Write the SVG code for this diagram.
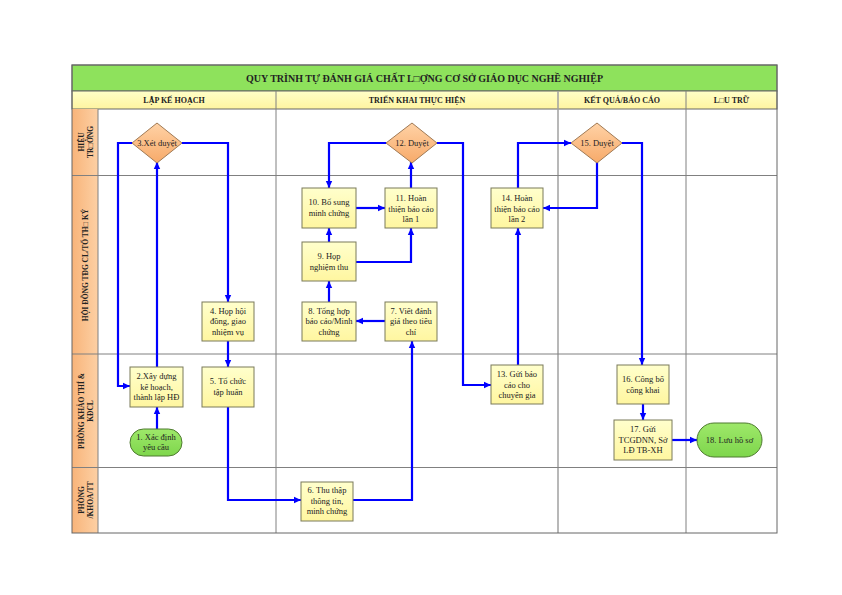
<svg xmlns="http://www.w3.org/2000/svg" width="842" height="595" viewBox="0 0 842 595">
<defs>
<linearGradient id="gBox" x1="0" y1="0" x2="0" y2="1"><stop offset="0" stop-color="#ffffcc"/><stop offset="1" stop-color="#fff6a0"/></linearGradient>
<linearGradient id="gDia" x1="0" y1="0" x2="0" y2="1"><stop offset="0" stop-color="#ffd2a6"/><stop offset="1" stop-color="#f7aa6a"/></linearGradient>
<linearGradient id="gPill" x1="0" y1="0" x2="0" y2="1"><stop offset="0" stop-color="#9ee86a"/><stop offset="1" stop-color="#7ed64c"/></linearGradient>
<linearGradient id="gLane" x1="0" y1="0" x2="1" y2="0"><stop offset="0" stop-color="#f8b47a"/><stop offset="1" stop-color="#fdd0a4"/></linearGradient>
<linearGradient id="gHead" x1="0" y1="0" x2="0" y2="1"><stop offset="0" stop-color="#ffffc8"/><stop offset="1" stop-color="#fff4a0"/></linearGradient>
<marker id="ah" markerUnits="userSpaceOnUse" markerWidth="8" markerHeight="8" refX="7" refY="4" orient="auto"><path d="M0,0.8 L7,4 L0,7.2 Z" fill="#0000ff"/></marker>
<style>
.box{fill:url(#gBox);stroke:#7a7a5a;stroke-width:1}
.dia{fill:url(#gDia);stroke:#a07a55;stroke-width:1}
.pill{fill:url(#gPill);stroke:#4f7a30;stroke-width:1}
.t{font-family:"Liberation Serif","Times New Roman",serif;font-size:8.5px;fill:#222;text-anchor:middle}
.lane{font-family:"Liberation Serif","Times New Roman",serif;font-size:7.5px;font-weight:bold;fill:#222;text-anchor:middle}
.hd{font-family:"Liberation Serif","Times New Roman",serif;font-size:8px;font-weight:bold;fill:#222;text-anchor:middle}
.grid{stroke:#808080;stroke-width:1;fill:none}
.c{fill:none;stroke:#0000ff;stroke-width:2.2;marker-end:url(#ah)}
</style>
</defs>
<rect x="0" y="0" width="842" height="595" fill="#ffffff"/>
<g id="frame">
<rect x="72" y="65" width="705" height="26" fill="#8ee25c" stroke="#666" stroke-width="1"/>
<text x="424.5" y="81.5" class="hd" style="font-size:10px">QUY TRÌNH TỰ ĐÁNH GIÁ CHẤT L□ỢNG CƠ SỞ GIÁO DỤC NGHỀ NGHIỆP</text>
<rect x="72" y="91" width="705" height="18" fill="url(#gHead)" stroke="#666" stroke-width="1"/>
<text x="174" y="103" class="hd">LẬP KẾ HOẠCH</text>
<text x="417" y="103" class="hd">TRIỂN KHAI THỰC HIỆN</text>
<text x="622" y="103" class="hd">KẾT QUẢ/BÁO CÁO</text>
<text x="731.5" y="103" class="hd">L□U TRỮ</text>
<rect x="72" y="109" width="26" height="424" fill="url(#gLane)"/>
<line x1="276" y1="91" x2="276" y2="533" class="grid"/>
<line x1="558" y1="91" x2="558" y2="533" class="grid" style="stroke:#a0a0a0;stroke-width:1.5"/>
<line x1="686" y1="91" x2="686" y2="533" class="grid"/>
<line x1="98" y1="109" x2="98" y2="533" class="grid"/>
<line x1="72" y1="175.5" x2="777" y2="175.5" class="grid"/>
<line x1="72" y1="354" x2="777" y2="354" class="grid"/>
<line x1="72" y1="467.5" x2="777" y2="467.5" class="grid"/>
<rect x="72" y="65" width="705" height="468" fill="none" stroke="#666" stroke-width="1"/>
</g>
<g id="lanes">
<text class="lane" transform="translate(84,142) rotate(-90)">HIỆU</text>
<text class="lane" transform="translate(93,142) rotate(-90)">TR□ỞNG</text>
<text class="lane" transform="translate(88,265) rotate(-90)">HỘI ĐỒNG TĐG CL/TỔ TH□ KÝ</text>
<text class="lane" transform="translate(84,411) rotate(-90)">PHÒNG KHẢO THÍ &amp;</text>
<text class="lane" transform="translate(93,411) rotate(-90)">KĐCL</text>
<text class="lane" transform="translate(84,500) rotate(-90)">PHÒNG</text>
<text class="lane" transform="translate(93,500) rotate(-90)">/KHOA/TT</text>
</g>
<g id="connectors">
<polyline class="c" points="157,429 157,407"/>
<polyline class="c" points="157,367 157,162"/>
<polyline class="c" points="132,143 118,143 118,386 130,386"/>
<polyline class="c" points="182,143 228,143 228,302"/>
<polyline class="c" points="228,341 228,367"/>
<polyline class="c" points="228,407 228,500 301,500"/>
<polyline class="c" points="353,500 412,500 412,341"/>
<polyline class="c" points="385,321 356,321"/>
<polyline class="c" points="329,302 329,281"/>
<polyline class="c" points="329,242 329,228"/>
<polyline class="c" points="356,262 411,262 411,228"/>
<polyline class="c" points="356,208 385,208"/>
<polyline class="c" points="411,188 411,162"/>
<polyline class="c" points="386,143 329,143 329,188"/>
<polyline class="c" points="437,143 463,143 463,385 491,385"/>
<polyline class="c" points="518,365 518,228"/>
<polyline class="c" points="518,188 518,143 571,143"/>
<polyline class="c" points="597,162 597,208 543,208"/>
<polyline class="c" points="622,143 642,143 642,365"/>
<polyline class="c" points="643,404 643,420"/>
<polyline class="c" points="672,440 697,440"/>
</g>
<g id="n1"><rect class="pill" x="130" y="429" width="52" height="27" rx="13.5"/><text class="t" x="156" y="440">1. Xác định</text><text class="t" x="156" y="450">yêu cầu</text></g>
<g id="n2"><rect class="box" x="130" y="367" width="53" height="40"/><text class="t" x="156.5" y="379">2.Xây dựng</text><text class="t" x="156.5" y="389.5">kế hoạch,</text><text class="t" x="156.5" y="400">thành lập HĐ</text></g>
<g id="n3"><polygon class="dia" points="157,123 182,143 157,163 132,143"/><text class="t" x="157" y="146">3.Xét duyệt</text></g>
<g id="n4"><rect class="box" x="202" y="302" width="52" height="39"/><text class="t" x="228" y="314">4. Họp hội</text><text class="t" x="228" y="324">đồng, giao</text><text class="t" x="228" y="334.5">nhiệm vụ</text></g>
<g id="n5"><rect class="box" x="202" y="367" width="52" height="40"/><text class="t" x="228" y="384">5. Tổ chức</text><text class="t" x="228" y="394.5">tập huấn</text></g>
<g id="n6"><rect class="box" x="301" y="482" width="52" height="39"/><text class="t" x="327" y="493">6. Thu thập</text><text class="t" x="327" y="503.5">thông tin,</text><text class="t" x="327" y="514">minh chứng</text></g>
<g id="n7"><rect class="box" x="385" y="302" width="52" height="39"/><text class="t" x="411" y="313.5">7. Viết đánh</text><text class="t" x="411" y="324">giá theo tiêu</text><text class="t" x="411" y="334.5">chí</text></g>
<g id="n8"><rect class="box" x="302" y="302" width="54" height="39"/><text class="t" x="329" y="313.5">8. Tổng hợp</text><text class="t" x="329" y="324">báo cáo/Minh</text><text class="t" x="329" y="334.5">chứng</text></g>
<g id="n9"><rect class="box" x="302" y="242" width="54" height="39"/><text class="t" x="329" y="259">9. Họp</text><text class="t" x="329" y="269.5">nghiệm thu</text></g>
<g id="n10"><rect class="box" x="302" y="188" width="54" height="40"/><text class="t" x="329" y="205">10. Bổ sung</text><text class="t" x="329" y="215.5">minh chứng</text></g>
<g id="n11"><rect class="box" x="385" y="188" width="52" height="40"/><text class="t" x="411" y="201">11. Hoàn</text><text class="t" x="411" y="211.5">thiện báo cáo</text><text class="t" x="411" y="222">lần 1</text></g>
<g id="n12"><polygon class="dia" points="412,123 437,143 412,163 386,143"/><text class="t" x="412" y="146">12. Duyệt</text></g>
<g id="n13"><rect class="box" x="491" y="365" width="52" height="39"/><text class="t" x="517" y="377">13. Gửi báo</text><text class="t" x="517" y="387.5">cáo cho</text><text class="t" x="517" y="398">chuyên gia</text></g>
<g id="n14"><rect class="box" x="491" y="188" width="52" height="40"/><text class="t" x="517" y="201">14. Hoàn</text><text class="t" x="517" y="211.5">thiện báo cáo</text><text class="t" x="517" y="222">lần 2</text></g>
<g id="n15"><polygon class="dia" points="597,123 622,143 597,163 571,143"/><text class="t" x="597" y="146">15. Duyệt</text></g>
<g id="n16"><rect class="box" x="617" y="365" width="52" height="39"/><text class="t" x="643" y="382">16. Công bố</text><text class="t" x="643" y="392.5">công khai</text></g>
<g id="n17"><rect class="box" x="614" y="420" width="58" height="40"/><text class="t" x="643" y="432">17. Gửi</text><text class="t" x="643" y="442.5">TCGDNN, Sở</text><text class="t" x="643" y="453">LĐ TB-XH</text></g>
<g id="n18"><rect class="pill" x="697" y="423" width="65" height="34" rx="17"/><text class="t" x="729.5" y="443">18. Lưu hồ sơ</text></g>
</svg>
